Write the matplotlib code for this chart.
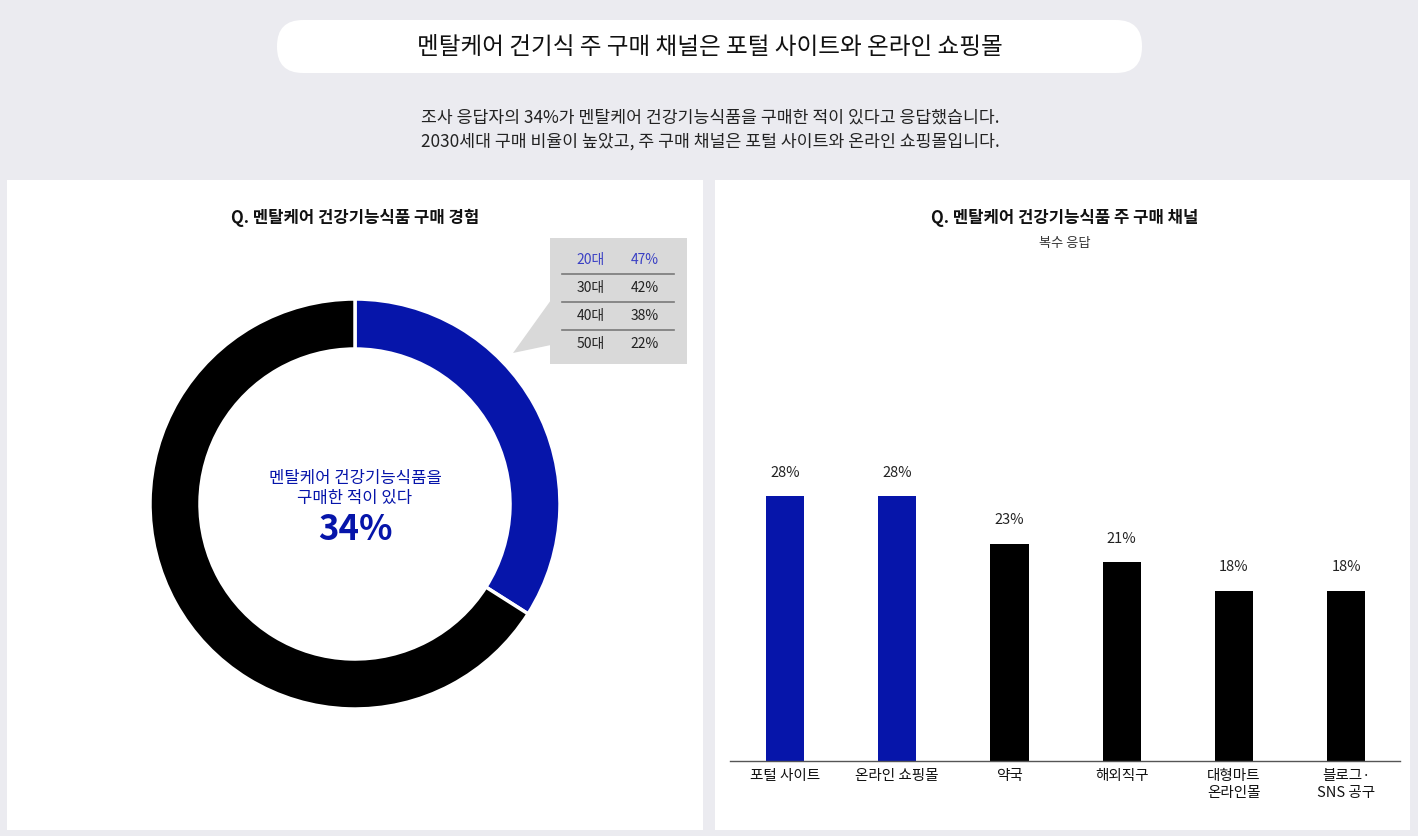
import matplotlib
matplotlib.use("Agg")
import matplotlib.pyplot as plt
from matplotlib.patches import FancyBboxPatch, Rectangle, Polygon

plt.rcParams['font.family'] = ['Noto Sans CJK KR', 'DejaVu Sans']

# data
purchased = 34
age_groups = ['20대', '30대', '40대', '50대']
age_rates = [47, 42, 38, 22]
channels = ['포털 사이트', '온라인 쇼핑몰', '약국', '해외직구', '대형마트\n온라인몰', '블로그·\nSNS 공구']
channel_shares = [28, 28, 23, 21, 18, 18]
highlight = [True, True, False, False, False, False]

blue = '#0615AA'
light_blue = '#3A40C4'
bg = '#EBEBF0'
W, H = 1418, 836

fig = plt.figure(figsize=(W / 100, H / 100), dpi=100, facecolor=bg)

# background layer in pixel coordinates
bgax = fig.add_axes([0, 0, 1, 1])
bgax.set_xlim(0, W)
bgax.set_ylim(H, 0)
bgax.axis('off')

bgax.add_patch(FancyBboxPatch((277, 20), 865, 53, boxstyle="round,pad=0,rounding_size=26",
                              fc='white', ec='none'))
bgax.text(710, 47, '멘탈케어 건기식 주 구매 채널은 포털 사이트와 온라인 쇼핑몰',
          ha='center', va='center', fontsize=17, color='#111111')
bgax.text(710, 118, '조사 응답자의 34%가 멘탈케어 건강기능식품을 구매한 적이 있다고 응답했습니다.',
          ha='center', va='center', fontsize=12.4, color='#222222')
bgax.text(710, 142, '2030세대 구매 비율이 높았고, 주 구매 채널은 포털 사이트와 온라인 쇼핑몰입니다.',
          ha='center', va='center', fontsize=12.4, color='#222222')

bgax.add_patch(Rectangle((7, 180), 696, 650, fc='white', ec='none'))
bgax.add_patch(Rectangle((715, 180), 695, 650, fc='white', ec='none'))

bgax.text(355, 218, 'Q. 멘탈케어 건강기능식품 구매 경험', ha='center', va='center',
          fontsize=12, fontweight='bold', color='#111111')
bgax.text(1065, 218, 'Q. 멘탈케어 건강기능식품 주 구매 채널', ha='center', va='center',
          fontsize=12, fontweight='bold', color='#111111')
bgax.text(1065, 243, '복수 응답', ha='center', va='center', fontsize=9.5, color='#333333')

# callout table
tbl_gray = '#D9D9D9'
bgax.add_patch(Rectangle((550, 238), 137, 126, fc=tbl_gray, ec='none'))
bgax.add_patch(Polygon([(551, 300), (551, 345), (513, 353)], closed=True, fc=tbl_gray, ec='none'))
for i, (g, r) in enumerate(zip(age_groups, age_rates)):
    y = 260 + i * 28
    c = light_blue if i == 0 else '#222222'
    bgax.text(591, y, g, ha='center', va='center', fontsize=10, color=c)
    bgax.text(645, y, f'{r}%', ha='center', va='center', fontsize=10, color=c)
    if i < len(age_groups) - 1:
        bgax.plot([562, 674], [y + 14, y + 14], color='#7A7A7A', lw=1.2)

# donut
pax = fig.add_axes([(355 - 205) / W, (H - 709) / H, 410 / W, 410 / H])
pax.pie([purchased, 100 - purchased], colors=[blue, 'black'], startangle=90,
        counterclock=False, radius=1,
        wedgeprops=dict(width=50 / 205, edgecolor='white', linewidth=2.5))
pax.set_aspect('equal')
pax.set_xlim(-1, 1)
pax.set_ylim(-1, 1)
pax.axis('off')
pax.text(0, 0.075, '멘탈케어 건강기능식품을\n구매한 적이 있다', ha='center', va='center',
         fontsize=12, color=blue, linespacing=1.25)
pax.text(0, -0.125, f'{purchased}%', ha='center', va='center', fontsize=25,
         fontweight='bold', color=blue)

# bar chart
bax = fig.add_axes([730 / W, (H - 761) / H, 670 / W, 501 / H])
bax.patch.set_alpha(0)
x = range(len(channels))
bcolors = [blue if h else 'black' for h in highlight]
bax.bar(x, channel_shares, width=0.34, color=bcolors)
for xi, v in zip(x, channel_shares):
    bax.text(xi, v + 2.5, f'{v}%', ha='center', va='center', fontsize=10.5, color='#222222')
bax.set_xlim(-0.49, 5.48)
bax.set_ylim(0, 53)
bax.set_xticks(list(x))
bax.set_xticklabels(channels, fontsize=10.5, color='#111111', linespacing=1.25, va='top')
bax.tick_params(axis='x', length=0, pad=6)
bax.set_yticks([])
for s in ['top', 'right', 'left']:
    bax.spines[s].set_visible(False)
bax.spines['bottom'].set_color('#555555')
bax.spines['bottom'].set_linewidth(1)

fig.savefig('out.png', dpi=100, facecolor=bg)
